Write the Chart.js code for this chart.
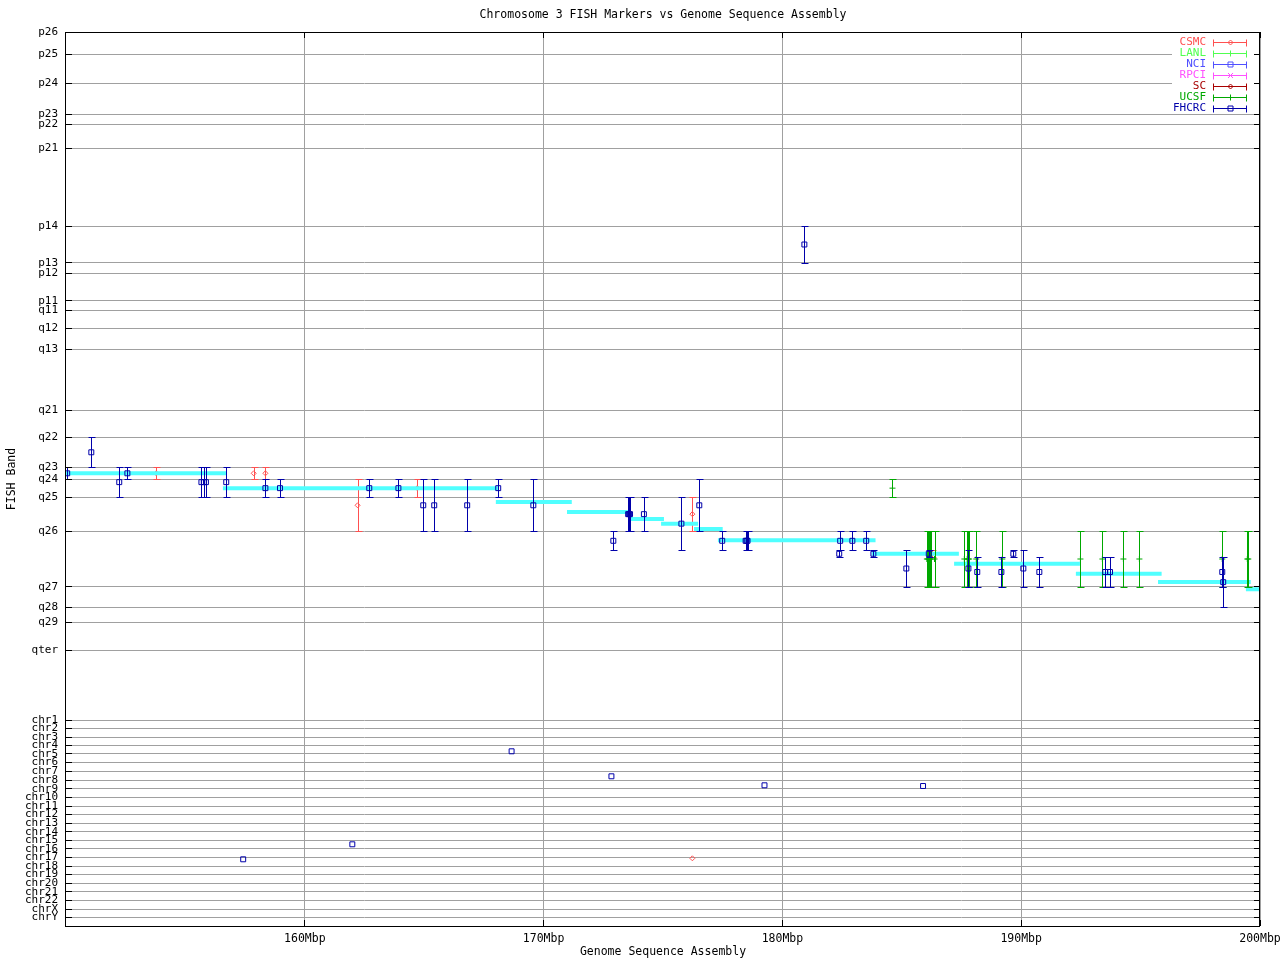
<!DOCTYPE html>
<html>
<head>
<meta charset="utf-8">
<title>Chromosome 3 FISH Markers vs Genome Sequence Assembly</title>
<script src="https://cdn.jsdelivr.net/npm/chart.js@4.4.1/dist/chart.umd.min.js"></script>
<style>
  html, body { margin: 0; padding: 0; background: #fff; }
  canvas { display: block; }
</style>
</head>
<body>
<canvas id="fishChart" width="1280" height="960"></canvas>
<script>
// Y axis: FISH band tick labels and their positions (units from top of plot)
const bandLabels = ['p26','p25','p24','p23','p22','p21','p14','p13','p12','p11','q11','q12','q13',
  'q21','q22','q23','q24','q25','q26','q27','q28','q29','qter',
  'chr1','chr2','chr3','chr4','chr5','chr6','chr7','chr8','chr9','chr10','chr11','chr12',
  'chr13','chr14','chr15','chr16','chr17','chr18','chr19','chr20','chr21','chr22','chrX','chrY'];
const bandPos = [0, 22.3, 51.3, 82.3, 92, 116.3, 194.3, 230.7, 241.3, 268.7, 278.3, 296.3, 317.2,
  378.3, 405.3, 435.3, 447.3, 465, 499.3, 554.7, 575, 590, 618,
  688, 696.3, 705, 713.3, 721.7, 730.3, 739, 748, 756.7, 765.3, 774, 782.3,
  791, 799.7, 808.3, 816.7, 825.3, 834, 842.3, 851, 859.7, 868.3, 877, 885.3];
// sub bands that are used by error bars but have no tick
const subBandLabels = ['q26.2', 'q26.3'];
const subBandPos = [518.3, 525.3];

// X axis ticks (Mbp)
const xTicks = [160, 170, 180, 190, 200];

// FISH mappings: [position Mbp, band from, band to]
const fhcrcBands = [
  [150.05,'q23','q24'], [151.06,'q22','q23'], [152.23,'q23','q25'], [152.57,'q23','q24'],
  [155.67,'q23','q25'], [155.77,'q23','q25'], [155.86,'q23','q25'], [156.71,'q23','q25'],
  [158.35,'q24','q25'], [158.96,'q24','q25'], [162.70,'q24','q25'], [163.92,'q24','q25'],
  [164.96,'q24','q26'], [165.42,'q24','q26'], [166.80,'q24','q26'], [168.10,'q24','q25'],
  [169.57,'q24','q26'], [172.92,'q26','q26.2'],
  [173.54,'q25','q26'], [173.58,'q25','q26'], [173.62,'q25','q26'],
  [174.20,'q25','q26'], [175.77,'q25','q26.2'], [176.52,'q24','q26'], [177.48,'q26','q26.2'],
  [178.46,'q26','q26.2'], [178.50,'q26','q26.2'], [178.54,'q26','q26.2'],
  [180.92,'p14','p13'],
  [182.42,'q26','q26.2'], [182.38,'q26.2','q26.3'], [182.93,'q26','q26.2'], [183.51,'q26','q26.2'],
  [183.81,'q26.2','q26.3'], [185.19,'q26.2','q27'], [186.13,'q26.2','q26.3'], [187.79,'q26.2','q27'],
  [188.16,'q26.3','q27'], [189.17,'q26.3','q27'], [189.67,'q26.2','q26.3'], [190.09,'q26.2','q27'],
  [190.76,'q26.3','q27'], [193.52,'q26.3','q27'], [193.72,'q26.3','q27'],
  [198.42,'q26.3','q27'], [198.46,'q26.3','q28']
];
// markers that map to other chromosomes: [position Mbp, y]
const fhcrcChr = [[157.42, 827.3], [161.99, 812.3], [168.66, 719.3], [172.84, 744.3], [179.25, 753.3], [185.89, 754]];

const csmcBands = [
  [153.78,'q23','q24'], [157.86,'q23','q24'], [158.35,'q23','q24'], [162.21,'q24','q26'],
  [164.71,'q24','q25'], [176.23,'q25','q26'], [186.26,'q26.2','q26.3']
];
const csmcChr = [[176.23, 826.3]];

const ucsfBands = [
  [184.61,'q24','q25'],
  [186.05,'q26','q27'], [186.09,'q26','q27'], [186.13,'q26','q27'], [186.17,'q26','q27'], [186.21,'q26','q27'],
  [186.37,'q26','q27'], [187.62,'q26','q27'], [187.74,'q26','q27'], [187.78,'q26','q27'], [187.82,'q26','q27'],
  [188.12,'q26','q27'], [189.21,'q26','q27'], [192.48,'q26','q27'], [193.40,'q26','q27'],
  [194.28,'q26','q27'], [194.95,'q26','q27'], [198.42,'q26','q27'], [199.47,'q26','q27'], [199.51,'q26','q27']
];

// sequence assembly segments (cyan)
const seqStart = [150, 156.57, 168.0, 170.98, 173.56, 174.92, 176.30, 177.30, 183.74, 187.19, 192.29, 195.73, 199.41];
const seqEnd   = [156.73, 168.09, 171.18, 173.56, 175.04, 176.47, 177.50, 183.90, 187.39, 192.46, 195.88, 199.61, 200];
const seqPos   = [441.3, 456.3, 470, 480, 487, 491.7, 497, 508.3, 521.7, 531.7, 541.7, 550, 557.3];

const COLORS = {
  csmc: '#ff5050',
  lanl: '#50ff50',
  nci: '#5050ff',
  rpci: '#ff50ff',
  sc: '#a80000',
  ucsf: '#00a800',
  fhcrc: '#0000aa',
  seq: '#50ffff',
  grid: '#a0a0a0'
};
const FONT = "'DejaVu Sans Mono', monospace";

Chart.defaults.font.family = FONT;
Chart.defaults.color = '#000';

function bandY(name) {
  const i = bandLabels.indexOf(name);
  if (i >= 0) return bandPos[i];
  return subBandPos[subBandLabels.indexOf(name)];
}

function toPoints(bands, chr) {
  const pts = bands.map(b => ({ x: b[0], y: (bandY(b[1]) + bandY(b[2])) / 2 }));
  (chr || []).forEach(c => pts.push({ x: c[0], y: c[1] }));
  return pts;
}

const seqData = [];
seqStart.forEach((s, i) => {
  seqData.push({ x: s, y: seqPos[i] }, { x: seqEnd[i], y: seqPos[i] }, { x: seqEnd[i], y: null });
});

function drawMarker(ctx, style, x, y, color) {
  ctx.save();
  ctx.strokeStyle = color;
  ctx.lineWidth = 1;
  ctx.beginPath();
  if (style === 'rect') {
    ctx.rect(x - 2.5, y - 2.5, 5, 5);
  } else if (style === 'rectRot') {
    ctx.moveTo(x, y - 2.5); ctx.lineTo(x + 2.5, y); ctx.lineTo(x, y + 2.5); ctx.lineTo(x - 2.5, y); ctx.closePath();
  } else if (style === 'cross') {
    ctx.moveTo(x, y - 3); ctx.lineTo(x, y + 3); ctx.moveTo(x - 3, y); ctx.lineTo(x + 3, y);
  } else if (style === 'crossRot') {
    ctx.moveTo(x - 2.5, y - 2.5); ctx.lineTo(x + 2.5, y + 2.5); ctx.moveTo(x + 2.5, y - 2.5); ctx.lineTo(x - 2.5, y + 2.5);
  }
  ctx.stroke();
  ctx.restore();
}

// gnuplot-like extras: error bars, border, inner ticks, title, key
const gnuplotLook = {
  id: 'gnuplotLook',
  beforeDatasetDraw(chart, args) {
    const ds = chart.data.datasets[args.index];
    if (!ds.bars || !ds.bars.length) return;
    const ctx = chart.ctx, xs = chart.scales.x, ys = chart.scales.y, a = chart.chartArea;
    ctx.save();
    ctx.beginPath();
    ctx.rect(a.left, a.top, a.right - a.left, a.bottom - a.top);
    ctx.clip();
    ctx.strokeStyle = ds.borderColor;
    ctx.lineWidth = 1;
    ctx.beginPath();
    ds.bars.forEach(b => {
      const x = Math.round(xs.getPixelForValue(b[0])) + 0.5;
      const y1 = Math.round(ys.getPixelForValue(bandY(b[1]))) + 0.5;
      const y2 = Math.round(ys.getPixelForValue(bandY(b[2]))) + 0.5;
      ctx.moveTo(x, y1); ctx.lineTo(x, y2);
      ctx.moveTo(x - 3, y1); ctx.lineTo(x + 4, y1);
      ctx.moveTo(x - 3, y2); ctx.lineTo(x + 4, y2);
    });
    ctx.stroke();
    ctx.restore();
  },
  afterDraw(chart) {
    const ctx = chart.ctx, a = chart.chartArea, xs = chart.scales.x, ys = chart.scales.y;
    ctx.save();

    // key
    ctx.fillStyle = '#fff';
    ctx.fillRect(1172, 36, 82, 77);
    ctx.font = '11px ' + FONT;
    ctx.textAlign = 'right';
    ctx.textBaseline = 'middle';
    let row = 0;
    chart.data.datasets.forEach(ds => {
      if (!ds.label) return;
      const y = Math.round(42 + row * 11) + 0.5;
      ctx.fillStyle = ds.borderColor;
      ctx.fillText(ds.label, 1206, y);
      ctx.strokeStyle = ds.borderColor;
      ctx.lineWidth = 1;
      ctx.beginPath();
      ctx.moveTo(1213, y); ctx.lineTo(1247, y);
      ctx.moveTo(1213.5, y - 3); ctx.lineTo(1213.5, y + 4);
      ctx.moveTo(1246.5, y - 3); ctx.lineTo(1246.5, y + 4);
      ctx.stroke();
      drawMarker(ctx, ds.pointStyle, 1230.5, y, ds.borderColor);
      row++;
    });

    // border and inner ticks
    ctx.strokeStyle = '#000';
    ctx.lineWidth = 1;
    ctx.strokeRect(a.left - 0.5, a.top + 0.5, a.right - a.left, a.bottom - a.top);
    ctx.beginPath();
    bandPos.forEach(v => {
      const y = Math.round(ys.getPixelForValue(v) - 0.5) + 0.5;
      ctx.moveTo(a.left, y); ctx.lineTo(a.left + 6, y);
      ctx.moveTo(a.right - 6, y); ctx.lineTo(a.right, y);
    });
    xTicks.forEach(v => {
      const x = Math.round(xs.getPixelForValue(v) - 0.5) + 0.5;
      ctx.moveTo(x, a.bottom); ctx.lineTo(x, a.bottom - 6);
      ctx.moveTo(x, a.top); ctx.lineTo(x, a.top + 6);
    });
    ctx.stroke();

    // title
    ctx.fillStyle = '#000';
    ctx.font = '11.5px ' + FONT;
    ctx.textAlign = 'center';
    ctx.fillText('Chromosome 3 FISH Markers vs Genome Sequence Assembly', (a.left + a.right) / 2, 15);
    ctx.restore();
  }
};

new Chart(document.getElementById('fishChart'), {
  type: 'scatter',
  data: {
    datasets: [
      { label: 'CSMC', data: toPoints(csmcBands, csmcChr), bars: csmcBands, borderColor: COLORS.csmc,
        backgroundColor: 'transparent', pointStyle: 'rectRot', pointRadius: 2.5, pointBorderWidth: 1, order: 6 },
      { label: 'LANL', data: [], bars: [], borderColor: COLORS.lanl, pointStyle: 'cross', pointRadius: 3, order: 6 },
      { label: 'NCI', data: [], bars: [], borderColor: COLORS.nci, pointStyle: 'rect', pointRadius: 3.5, order: 6 },
      { label: 'RPCI', data: [], bars: [], borderColor: COLORS.rpci, pointStyle: 'crossRot', pointRadius: 3, order: 6 },
      { label: 'SC', data: [], bars: [], borderColor: COLORS.sc, pointStyle: 'rectRot', pointRadius: 2.5, order: 6 },
      { label: 'UCSF', data: toPoints(ucsfBands), bars: ucsfBands, borderColor: COLORS.ucsf,
        backgroundColor: 'transparent', pointStyle: 'cross', pointRadius: 3, pointBorderWidth: 1, order: 2 },
      { label: 'FHCRC', data: toPoints(fhcrcBands, fhcrcChr), bars: fhcrcBands, borderColor: COLORS.fhcrc,
        backgroundColor: 'transparent', pointStyle: 'rect', pointRadius: 3.5, pointBorderWidth: 1, order: 1 },
      { type: 'line', data: seqData, borderColor: COLORS.seq, borderWidth: 4, pointRadius: 0,
        spanGaps: false, showLine: true, clip: 0, order: 4 }
    ]
  },
  options: {
    responsive: false,
    animation: false,
    events: [],
    layout: { padding: { top: 32, right: 20, left: 0, bottom: 0 } },
    plugins: {
      legend: { display: false },
      title: { display: false },
      tooltip: { enabled: false }
    },
    scales: {
      x: {
        type: 'linear', min: 150, max: 200,
        afterBuildTicks: s => { s.ticks = xTicks.map(v => ({ value: v })); },
        afterFit: s => { s.height = 34; s.paddingLeft = 0; s.paddingRight = 0; },
        ticks: { callback: v => v + 'Mbp', autoSkip: false, maxRotation: 0, minRotation: 0,
          padding: 6, font: { size: 11.5 }, color: '#000' },
        grid: { color: COLORS.grid, drawTicks: false },
        border: { display: false },
        title: { display: true, text: 'Genome Sequence Assembly', font: { size: 11.5 },
          color: '#000', padding: { top: 0, bottom: 1 } }
      },
      y: {
        type: 'linear', min: 0, max: 894, reverse: true,
        afterBuildTicks: s => { s.ticks = bandPos.map(v => ({ value: v })); },
        afterFit: s => { s.width = 66; s.paddingTop = 0; s.paddingBottom = 0; },
        ticks: { callback: (v, i) => bandLabels[i], autoSkip: false, padding: 8,
          font: { size: 11 }, color: '#000' },
        grid: { color: COLORS.grid, drawTicks: false },
        border: { display: false },
        title: { display: true, text: 'FISH Band', font: { size: 11.5 }, color: '#000',
          padding: { top: 5, bottom: 0 } }
      }
    }
  },
  plugins: [gnuplotLook]
});
</script>
</body>
</html>
